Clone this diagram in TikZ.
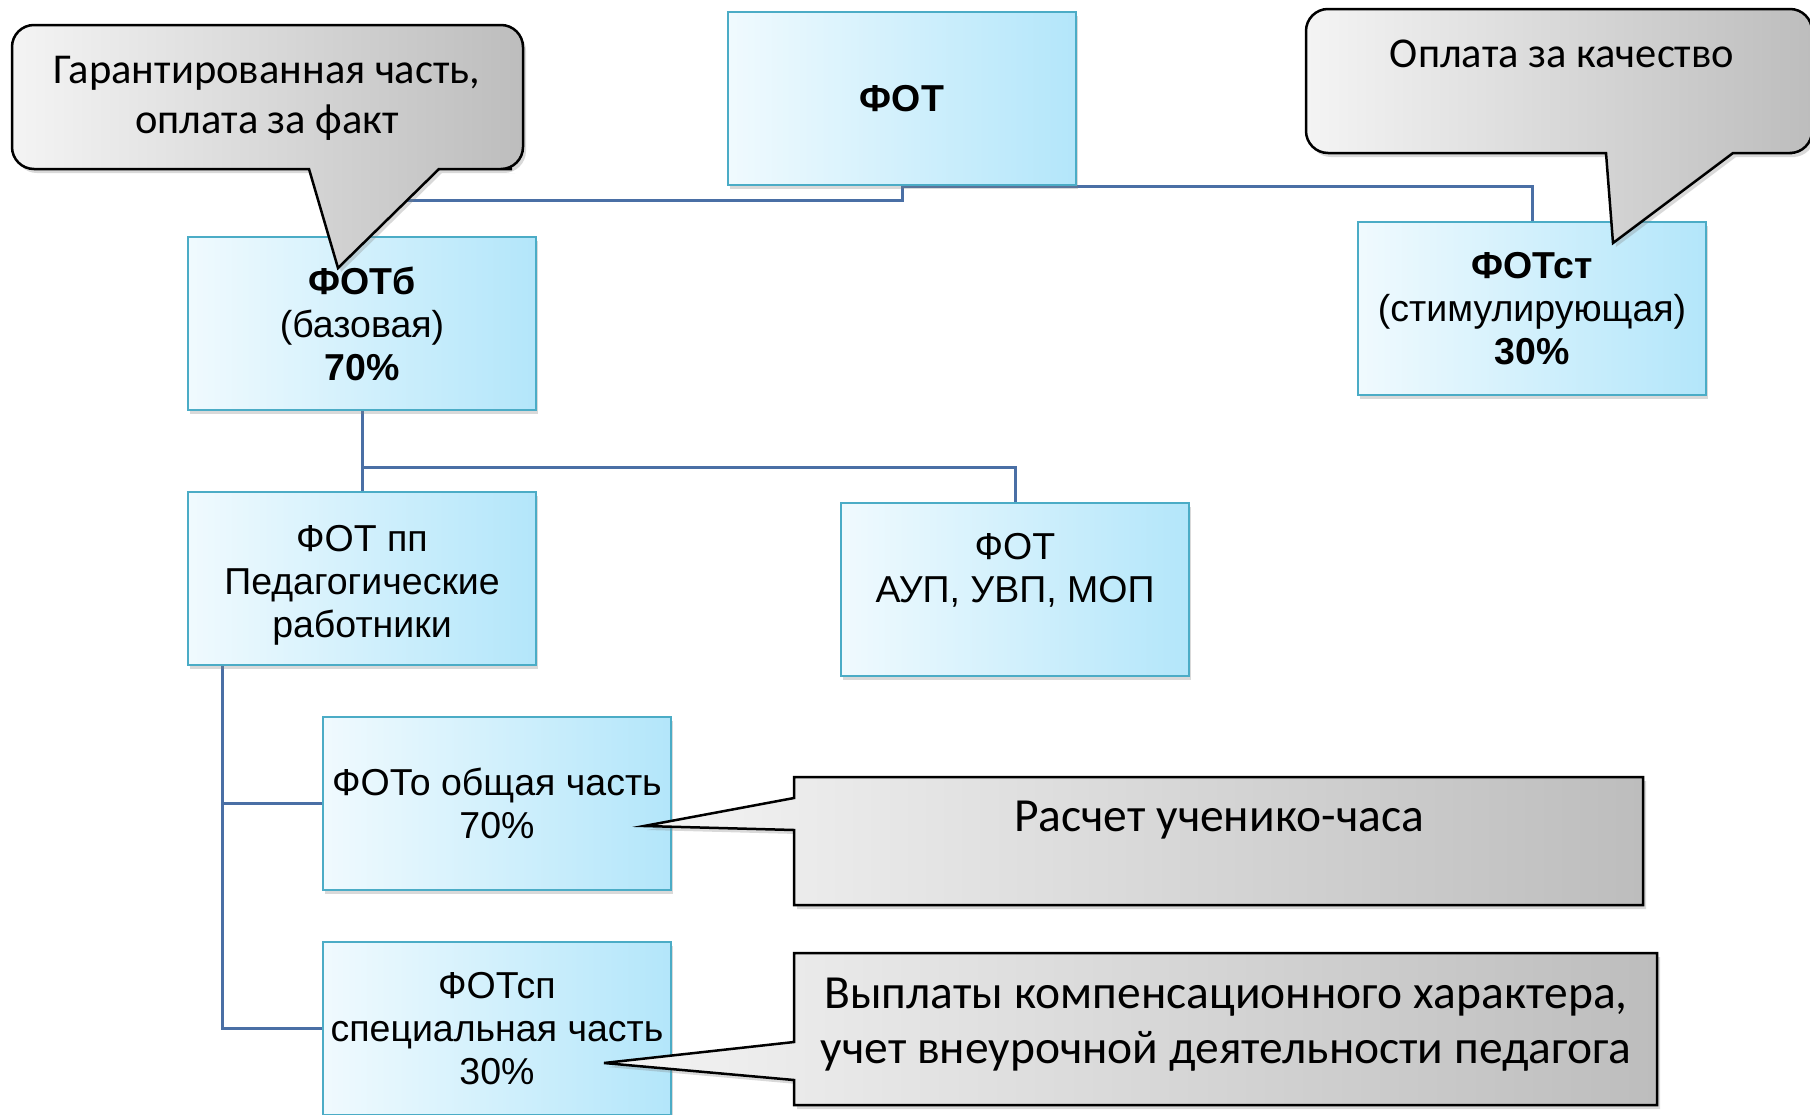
\documentclass[tikz,border=0pt]{standalone}
\usepackage{fontspec}
\setmainfont{Liberation Sans}
\newfontfamily\calfont{Carlito}
\usetikzlibrary{shadows}

\definecolor{boxline}{HTML}{4BACC6}
\definecolor{boxleft}{HTML}{F0FAFE}
\definecolor{boxright}{HTML}{B3E6FA}
\definecolor{linkblue}{HTML}{4A6FA5}
\definecolor{callleft}{HTML}{F4F4F4}
\definecolor{callright}{HTML}{BDBDBD}

\pgfdeclarelayer{bg}
\pgfsetlayers{bg,main}

\tikzset{
  fotbox/.style={draw=boxline, line width=2pt, left color=boxleft, right color=boxright,
    minimum width=348pt, minimum height=173pt, inner sep=0pt, align=center,
    font=\fontsize{37.5}{43}\selectfont,
    drop shadow={shadow xshift=2pt, shadow yshift=-4pt, opacity=0.3}},
  link/.style={draw=linkblue, line width=3pt},
  callout/.style={draw=black, line width=2.5pt, left color=callleft, right color=callright,
    drop shadow={shadow xshift=3pt, shadow yshift=-4pt, opacity=0.3}},
  calltext/.style={align=center, inner sep=0pt, font=\calfont\fontsize{42.5}{50}\selectfont}
}

\begin{document}
\begin{tikzpicture}[x=1pt, y=-1pt]
  \useasboundingbox (0,0) rectangle (1810,1114);

  % Boxes
  \node[fotbox] (fot)    at (902,98.5)   {\textbf{ФОТ}};
  \node[fotbox] (fotb)   at (362,323.5)  {\textbf{ФОТб}\\(базовая)\\\textbf{70\%}};
  \node[fotbox] (fotst)  at (1532,308.5) {\textbf{ФОТст}\\(стимулирующая)\\\textbf{30\%}};
  \node[fotbox] (fotpp)  at (362,578.5)  {\rule{0pt}{39pt}ФОТ пп\\Педагогические\\работники};
  \node[fotbox] (fotaup) at (1015,589.5) {ФОТ\\АУП, УВП, МОП\\~};
  \node[fotbox] (foto)   at (497,803.5)  {ФОТо общая часть\\70\%};
  \node[fotbox] (fotsp)  at (497,1028.5) {ФОТсп\\специальная часть\\30\%};

  % Connectors
  \begin{pgfonlayer}{bg}
    \draw[link] (fot.south) -- ++(0,14) -| (fotb.north);
    \draw[link] (fot.south) -| (fotst.north);
    \draw[link] (fotb.south) -- (fotpp.north);
    \draw[link] (fotb.south) ++(0,56) -| (fotaup.north);
    \draw[link] ([xshift=35pt]fotpp.south west) |- (foto.west);
    \draw[link] ([xshift=35pt]fotpp.south west) |- (fotsp.west);
  \end{pgfonlayer}

  % Callouts
  \draw[callout] (267,25) [rounded corners=22pt] -- (523,25) -- (523,169) -- (490,169)
    [sharp corners] -- (439,169) -- (338,268) -- (309,169) -- (280,169)
    [rounded corners=22pt] -- (12,169) -- (12,25) -- cycle;
  \draw[callout] (1560,9) [rounded corners=22pt] -- (1812,9) -- (1812,153) -- (1770,153)
    [sharp corners] -- (1733,153) -- (1613,243) -- (1606,153) -- (1580,153)
    [rounded corners=22pt] -- (1306,153) -- (1306,9) -- cycle;
  \draw[callout] (794,777) -- (1643,777) -- (1643,905) -- (794,905) -- (794,830)
    -- (644,826) -- (794,798) -- cycle;
  \draw[callout] (794,953) -- (1657,953) -- (1657,1105) -- (794,1105) -- (794,1080)
    -- (604,1063) -- (794,1042) -- cycle;

  \node[calltext] (garant) at (267,98) {Гарантированная часть,\\оплата за факт};
  \node[calltext] (kach) at (1562,54) {Оплата за качество};
  \node[calltext, font=\calfont\fontsize{47.5}{55}\selectfont] (raschet) at (1219,820) {Расчет ученико-часа};
  \node[calltext, font=\calfont\fontsize{47.5}{55}\selectfont] (vyplaty) at (1226,1025)
    {Выплаты компенсационного характера,\\учет внеурочной деятельности педагога};
\end{tikzpicture}
\end{document}
